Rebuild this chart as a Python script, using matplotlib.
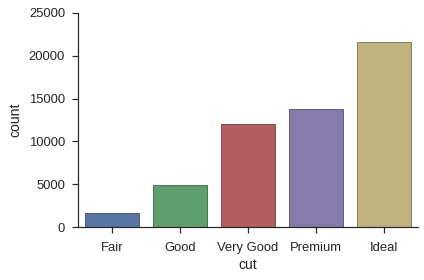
import numpy as np
import matplotlib
matplotlib.use("Agg")
import matplotlib.pyplot as plt
import seaborn as sns

cuts = ["Fair", "Good", "Very Good", "Premium", "Ideal"]
counts = [1610, 4906, 12082, 13791, 21551]
base_colors = ["#4C72B0", "#55A868", "#C44E52", "#8172B2", "#CCB974"]

sns.set_style("ticks")
plt.rcParams["font.family"] = ["Liberation Sans", "DejaVu Sans"]

fig = plt.figure(figsize=(424 / 72, 280 / 72), dpi=72)
ax = fig.add_axes([0.184, 0.189, 0.802, 0.765])

colors = [sns.desaturate(c, 0.75) for c in base_colors]
edges = [tuple(np.array(matplotlib.colors.to_rgb(c)) * 0.6) for c in colors]
x = np.arange(len(cuts))
ax.bar(x, counts, 0.8, color=colors, edgecolor=edges, linewidth=0.8)

ax.set_xlim(-0.5, len(cuts) - 0.5)
ax.set_ylim(0, 25000)
ax.set_yticks(np.arange(0, 25001, 5000))
ax.set_xticks(x)
ax.set_xticklabels(cuts)
ax.tick_params(labelsize=13, length=6, width=1.2, pad=7, colors="#262626")
ax.tick_params(axis="x", pad=9)
ax.set_xlabel("cut", fontsize=14, color="#262626", labelpad=4)
ax.set_ylabel("count", fontsize=14, color="#262626", labelpad=6)
for s in ["left", "bottom"]:
    ax.spines[s].set_color("#262626")
    ax.spines[s].set_linewidth(1.2)
sns.despine(ax=ax)

fig.savefig("out.png", dpi=72)
